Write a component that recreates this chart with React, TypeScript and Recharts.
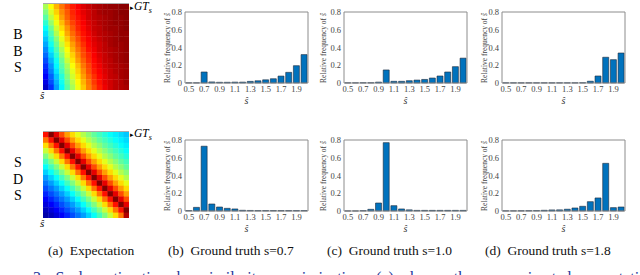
import { Bar, BarChart, Scatter, ScatterChart, XAxis, YAxis } from "recharts"

const FONT = '"Liberation Serif", "Times New Roman", serif'

// estimated scale categories and y ticks
const S_CATEGORIES = ["0.5", "0.6", "0.7", "0.8", "0.9", "1.0", "1.1", "1.2", "1.3", "1.4", "1.5", "1.6", "1.7", "1.8", "1.9", "2.0"]
const Y_TICKS = [0, 0.2, 0.4, 0.6, 0.8]

// relative frequency of s-hat, BBS row
const bbsS07 = [0.002, 0.002, 0.124, 0.012, 0.008, 0.008, 0.01, 0.01, 0.018, 0.025, 0.036, 0.048, 0.078, 0.12, 0.195, 0.32]
const bbsS10 = [0.002, 0.002, 0.003, 0.003, 0.01, 0.147, 0.019, 0.019, 0.026, 0.033, 0.04, 0.056, 0.079, 0.124, 0.184, 0.28]
const bbsS18 = [0.002, 0.002, 0.002, 0.002, 0.002, 0.002, 0.002, 0.002, 0.002, 0.002, 0.003, 0.02, 0.079, 0.29, 0.263, 0.338]

// relative frequency of s-hat, SDS row
const sdsS07 = [0.005, 0.041, 0.73, 0.079, 0.045, 0.03, 0.023, 0.008, 0.006, 0.005, 0.005, 0.005, 0.005, 0.005, 0.005, 0.005]
const sdsS10 = [0.001, 0.001, 0.004, 0.019, 0.09, 0.77, 0.06, 0.023, 0.013, 0.007, 0.007, 0.007, 0.007, 0.007, 0.007, 0.007]
const sdsS18 = [0.002, 0.002, 0.003, 0.004, 0.005, 0.008, 0.012, 0.013, 0.02, 0.034, 0.053, 0.105, 0.147, 0.537, 0.038, 0.045]

// expectation maps (rows top to bottom, 0..1 on the jet scale)
const bbsExpectation = [
  [0.54, 0.62, 0.7, 0.76, 0.81, 0.85, 0.88, 0.91, 0.93, 0.95, 0.96, 0.97, 0.98, 0.98, 0.99, 0.99],
  [0.5, 0.59, 0.67, 0.74, 0.79, 0.84, 0.87, 0.9, 0.92, 0.94, 0.96, 0.97, 0.97, 0.98, 0.99, 0.99],
  [0.46, 0.56, 0.64, 0.72, 0.78, 0.83, 0.86, 0.89, 0.92, 0.94, 0.95, 0.96, 0.97, 0.98, 0.98, 0.99],
  [0.42, 0.52, 0.61, 0.69, 0.76, 0.81, 0.85, 0.88, 0.91, 0.93, 0.95, 0.96, 0.97, 0.98, 0.98, 0.99],
  [0.38, 0.48, 0.58, 0.66, 0.73, 0.79, 0.84, 0.87, 0.9, 0.93, 0.94, 0.96, 0.97, 0.97, 0.98, 0.99],
  [0.35, 0.45, 0.55, 0.63, 0.71, 0.77, 0.82, 0.86, 0.89, 0.92, 0.94, 0.95, 0.96, 0.97, 0.98, 0.98],
  [0.32, 0.42, 0.51, 0.6, 0.68, 0.75, 0.8, 0.85, 0.88, 0.91, 0.93, 0.95, 0.96, 0.97, 0.98, 0.98],
  [0.29, 0.39, 0.48, 0.57, 0.65, 0.72, 0.78, 0.83, 0.87, 0.9, 0.92, 0.94, 0.96, 0.97, 0.97, 0.98],
  [0.26, 0.36, 0.45, 0.54, 0.62, 0.7, 0.76, 0.81, 0.86, 0.89, 0.92, 0.94, 0.95, 0.96, 0.97, 0.98],
  [0.23, 0.33, 0.42, 0.51, 0.6, 0.67, 0.74, 0.8, 0.84, 0.88, 0.91, 0.93, 0.95, 0.96, 0.97, 0.98],
  [0.2, 0.3, 0.39, 0.48, 0.57, 0.65, 0.72, 0.78, 0.83, 0.87, 0.9, 0.93, 0.94, 0.96, 0.97, 0.98],
  [0.17, 0.27, 0.37, 0.46, 0.54, 0.62, 0.69, 0.76, 0.81, 0.86, 0.89, 0.92, 0.94, 0.95, 0.96, 0.97],
  [0.15, 0.25, 0.35, 0.44, 0.52, 0.6, 0.67, 0.74, 0.8, 0.85, 0.88, 0.91, 0.93, 0.95, 0.96, 0.97],
  [0.12, 0.22, 0.32, 0.41, 0.5, 0.58, 0.65, 0.72, 0.78, 0.83, 0.87, 0.9, 0.93, 0.94, 0.96, 0.97],
  [0.1, 0.2, 0.3, 0.39, 0.48, 0.56, 0.63, 0.7, 0.76, 0.82, 0.86, 0.9, 0.92, 0.94, 0.95, 0.97],
  [0.07, 0.17, 0.28, 0.37, 0.46, 0.54, 0.61, 0.68, 0.75, 0.8, 0.85, 0.89, 0.92, 0.94, 0.95, 0.96],
]

const sdsExpectation = [
  [0.86, 1.0, 0.9, 0.8, 0.72, 0.66, 0.6, 0.55, 0.51, 0.47, 0.44, 0.41, 0.38, 0.36, 0.34, 0.32],
  [0.76, 0.86, 1.0, 0.9, 0.8, 0.72, 0.66, 0.6, 0.55, 0.51, 0.47, 0.44, 0.41, 0.38, 0.36, 0.34],
  [0.66, 0.76, 0.86, 1.0, 0.9, 0.8, 0.72, 0.66, 0.6, 0.55, 0.51, 0.47, 0.44, 0.41, 0.38, 0.36],
  [0.57, 0.66, 0.76, 0.86, 1.0, 0.9, 0.8, 0.72, 0.66, 0.6, 0.55, 0.51, 0.47, 0.44, 0.41, 0.38],
  [0.5, 0.57, 0.66, 0.76, 0.86, 1.0, 0.9, 0.8, 0.72, 0.66, 0.6, 0.55, 0.51, 0.47, 0.44, 0.41],
  [0.44, 0.5, 0.57, 0.66, 0.76, 0.86, 1.0, 0.9, 0.8, 0.72, 0.66, 0.6, 0.55, 0.51, 0.47, 0.44],
  [0.38, 0.44, 0.5, 0.57, 0.66, 0.76, 0.86, 1.0, 0.9, 0.8, 0.72, 0.66, 0.6, 0.55, 0.51, 0.47],
  [0.33, 0.38, 0.44, 0.5, 0.57, 0.66, 0.76, 0.86, 1.0, 0.9, 0.8, 0.72, 0.66, 0.6, 0.55, 0.51],
  [0.28, 0.33, 0.38, 0.44, 0.5, 0.57, 0.66, 0.76, 0.86, 1.0, 0.9, 0.8, 0.72, 0.66, 0.6, 0.55],
  [0.24, 0.28, 0.33, 0.38, 0.44, 0.5, 0.57, 0.66, 0.76, 0.86, 1.0, 0.9, 0.8, 0.72, 0.66, 0.6],
  [0.2, 0.24, 0.28, 0.33, 0.38, 0.44, 0.5, 0.57, 0.66, 0.76, 0.86, 1.0, 0.9, 0.8, 0.72, 0.66],
  [0.16, 0.2, 0.24, 0.28, 0.33, 0.38, 0.44, 0.5, 0.57, 0.66, 0.76, 0.86, 1.0, 0.9, 0.8, 0.72],
  [0.12, 0.16, 0.2, 0.24, 0.28, 0.33, 0.38, 0.44, 0.5, 0.57, 0.66, 0.76, 0.86, 1.0, 0.9, 0.8],
  [0.09, 0.12, 0.16, 0.2, 0.24, 0.28, 0.33, 0.38, 0.44, 0.5, 0.57, 0.66, 0.76, 0.86, 1.0, 0.9],
  [0.06, 0.09, 0.12, 0.16, 0.2, 0.24, 0.28, 0.33, 0.38, 0.44, 0.5, 0.57, 0.66, 0.76, 0.86, 1.0],
  [0.04, 0.06, 0.09, 0.12, 0.16, 0.2, 0.24, 0.28, 0.33, 0.38, 0.44, 0.5, 0.57, 0.66, 0.76, 0.95],
]

const PLOT_W = 123
const PLOT_H = 71
const Y_AXIS_W = 35
const X_AXIS_H = 28
const M_TOP = 12
const M_RIGHT = 6
const BOX = "#8c8c8c"
const HM = 86
const CELL = HM / 16

function jet(v: number) {
  const c = (x: number) => Math.round(255 * Math.max(0, Math.min(1, x)))
  return `rgb(${c(1.5 - Math.abs(4 * v - 3))},${c(1.5 - Math.abs(4 * v - 2))},${c(1.5 - Math.abs(4 * v - 1))})`
}

function Histogram({ x0, y0, values, labelX }: { x0: number; y0: number; values: number[]; labelX: number }) {
  const data = S_CATEGORIES.map((s, i) => ({ s, f: values[i] }))
  const tickFont = { fontSize: 8.5, fill: "#444", fontFamily: FONT }
  return (
    <>
      <div style={{ position: "absolute", left: x0 - Y_AXIS_W, top: y0 - M_TOP }}>
        <BarChart
          width={PLOT_W + Y_AXIS_W + M_RIGHT}
          height={PLOT_H + M_TOP + X_AXIS_H}
          data={data}
          margin={{ top: M_TOP, right: M_RIGHT, left: 0, bottom: 0 }}
          barCategoryGap="10%"
        >
          <XAxis dataKey="s" interval={1} height={X_AXIS_H} tickLine={false} tickSize={0} tickMargin={3} tick={tickFont} stroke={BOX} />
          <XAxis xAxisId="top" dataKey="s" orientation="top" mirror interval={1} tickSize={2} tick={false} stroke={BOX} />
          <XAxis xAxisId="bin" dataKey="s" mirror interval={1} tickSize={2} tick={false} axisLine={false} stroke={BOX} />
          <YAxis
            domain={[0, 0.8]}
            ticks={Y_TICKS}
            width={Y_AXIS_W}
            tickLine={false}
            tickSize={0}
            tickMargin={3}
            tick={tickFont}
            tickFormatter={(v: number) => (v === 0 ? "0" : v.toFixed(1))}
            stroke={BOX}
          />
          <YAxis yAxisId="right" orientation="right" mirror domain={[0, 0.8]} ticks={Y_TICKS} tickSize={2} tick={false} stroke={BOX} />
          <YAxis yAxisId="lin" mirror domain={[0, 0.8]} ticks={Y_TICKS} tickSize={2} tick={false} axisLine={false} stroke={BOX} />
          <Bar dataKey="f" fill="#0072BD" stroke="#1e2a3a" strokeWidth={0.6} isAnimationActive={false} />
        </BarChart>
      </div>
      <div
        style={{
          position: "absolute",
          left: labelX,
          top: y0 + PLOT_H / 2,
          transform: "translate(-50%, -50%) rotate(-90deg)",
          whiteSpace: "nowrap",
          fontSize: 7.5,
          color: "#444",
          fontFamily: FONT,
        }}
      >
        Relative frequency of <i>ŝ</i>
      </div>
      <div
        style={{
          position: "absolute",
          left: x0 + PLOT_W / 2,
          top: y0 + PLOT_H + 17,
          transform: "translate(-50%, -50%)",
          fontSize: 10,
          fontStyle: "italic",
          color: "#333",
          fontFamily: FONT,
        }}
      >
        ŝ
      </div>
    </>
  )
}

function Heatmap({ left, top, rows }: { left: number; top: number; rows: number[][] }) {
  const cells = rows.flatMap((row, r) => row.map((v, c) => ({ c: c + 0.5, r: r + 0.5, v })))
  return (
    <>
      <div style={{ position: "absolute", left, top }}>
        <ScatterChart width={HM} height={HM} margin={{ top: 0, right: 0, bottom: 0, left: 0 }}>
          <XAxis type="number" dataKey="c" domain={[0, 16]} hide />
          <YAxis type="number" dataKey="r" domain={[0, 16]} reversed hide />
          <Scatter
            data={cells}
            isAnimationActive={false}
            shape={(p: any) => (
              <rect x={p.cx - CELL / 2} y={p.cy - CELL / 2} width={CELL + 0.4} height={CELL + 0.4} fill={jet(p.payload.v)} />
            )}
          />
        </ScatterChart>
      </div>
      <div style={{ position: "absolute", left, top: top - 1, width: HM, height: 1, background: "#aaa" }} />
      <div
        style={{
          position: "absolute",
          left: left + HM + 1,
          top: Math.max(0, top - 5),
          fontSize: 11.5,
          lineHeight: "12px",
          fontStyle: "italic",
          fontFamily: FONT,
          whiteSpace: "nowrap",
        }}
      >
        <span style={{ fontSize: 7, fontStyle: "normal" }}>▸</span>GT<sub style={{ fontSize: 8, lineHeight: 0 }}>s</sub>
      </div>
      <div style={{ position: "absolute", left: left - 3, top: top + HM - 1, fontSize: 11, fontStyle: "italic", fontFamily: FONT }}>ŝ</div>
    </>
  )
}

function RowLetters({ top, letters }: { top: number; letters: string[] }) {
  return (
    <div style={{ position: "absolute", left: 11, top, fontFamily: FONT, fontSize: 14, lineHeight: "16.5px", width: 14, textAlign: "center" }}>
      {letters.map((l, i) => (
        <div key={i}>{l}</div>
      ))}
    </div>
  )
}

const captionStyle = {
  position: "absolute" as const,
  top: 243,
  fontFamily: FONT,
  fontSize: 13.5,
  whiteSpace: "pre" as const,
  color: "#111",
}

export default function App() {
  return (
    <div style={{ position: "absolute", left: 0, top: 0, width: 640, height: 275, overflow: "hidden", background: "#fff" }}>
      <RowLetters top={27} letters={["B", "B", "S"]} />
      <RowLetters top={155} letters={["S", "D", "S"]} />
      <Heatmap left={43} top={4} rows={bbsExpectation} />
      <Heatmap left={43} top={132} rows={sdsExpectation} />

      <Histogram x0={185} y0={12} values={bbsS07} labelX={167} />
      <Histogram x0={344} y0={12} values={bbsS10} labelX={323} />
      <Histogram x0={502} y0={12} values={bbsS18} labelX={484} />
      <Histogram x0={185} y0={140} values={sdsS07} labelX={167} />
      <Histogram x0={344} y0={140} values={sdsS10} labelX={323} />
      <Histogram x0={502} y0={140} values={sdsS18} labelX={484} />

      <div style={{ ...captionStyle, left: 48 }}>(a)  Expectation</div>
      <div style={{ ...captionStyle, left: 168 }}>(b)  Ground truth s=0.7</div>
      <div style={{ ...captionStyle, left: 327 }}>(c)  Ground truth s=1.0</div>
      <div style={{ ...captionStyle, left: 485 }}>(d)  Ground truth s=1.8</div>

      <div
        style={{
          position: "absolute",
          left: 33,
          top: 268,
          fontFamily: FONT,
          fontSize: 16,
          lineHeight: "20px",
          color: "#24389c",
          whiteSpace: "nowrap",
          wordSpacing: 6,
        }}
      >
        3: Scale estimation by similarity maximization. (a) shows the approximated expectation
      </div>
    </div>
  )
}
